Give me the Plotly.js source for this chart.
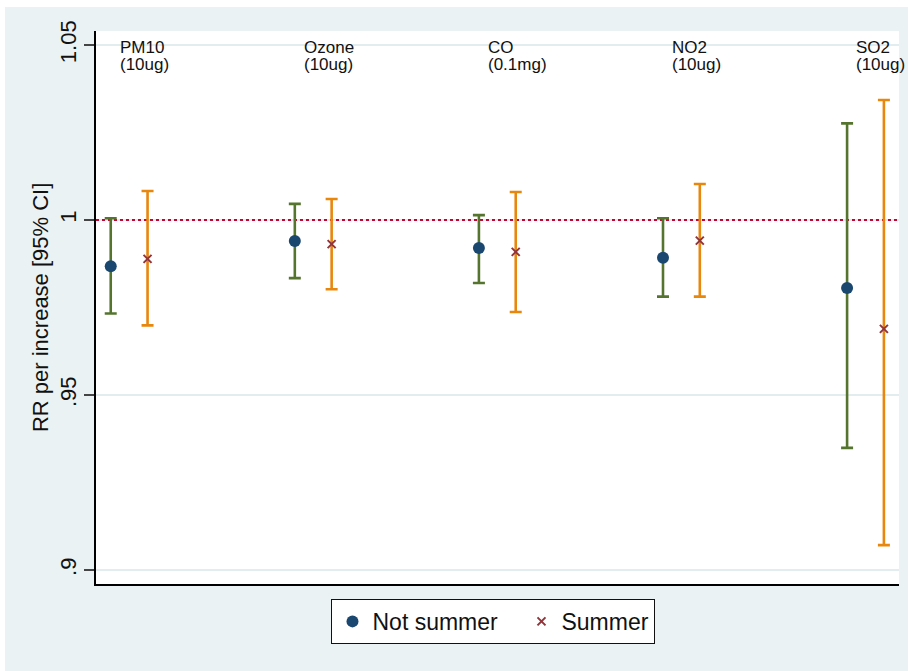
<!DOCTYPE html>
<html>
<head>
<meta charset="utf-8">
<script src="https://cdn.plot.ly/plotly-3.0.1.min.js"></script>
<style>
  html, body { margin: 0; padding: 0; background: #ffffff; }
  #chart { position: absolute; left: 5px; top: 7px; width: 903px; height: 664px; }
</style>
</head>
<body>
<div id="chart"></div>
<script>
// Pollutants and their increments
const pollutants = ["PM10", "Ozone", "CO", "NO2", "SO2"];
const increments = ["(10ug)", "(10ug)", "(0.1mg)", "(10ug)", "(10ug)"];

// Not summer: RR and 95% CI
const notSummerRR = [0.9868, 0.9940, 0.9920, 0.9892, 0.9806];
const notSummerLo = [0.9733, 0.9834, 0.9820, 0.9781, 0.9349];
const notSummerHi = [1.0005, 1.0046, 1.0014, 1.0005, 1.0276];

// Summer: RR and 95% CI
const summerRR = [0.9889, 0.9931, 0.9909, 0.9941, 0.9689];
const summerLo = [0.9699, 0.9802, 0.9737, 0.9781, 0.9071];
const summerHi = [1.0083, 1.0060, 1.0080, 1.0103, 1.0343];

// Reference line (RR = 1)
const refRR = 1;

const yTickVals = [0.9, 0.95, 1, 1.05];
const yTickText = [".9", ".95", "1", "1.05"];

const xRange = [0.92, 5.282];
const xNS = pollutants.map((p, i) => i + 1);
const xS = pollutants.map((p, i) => i + 1.2);

const FONT = "Liberation Sans, Arial, sans-serif";

const traceRef = {
  type: "scatter", mode: "lines", name: "RR = 1", showlegend: false,
  x: xRange, y: [refRR, refRR],
  line: { color: "#c10534", width: 2.2, dash: "dot" },
  hoverinfo: "skip"
};

const traceNS = {
  type: "scatter", mode: "markers", name: "Not summer",
  x: xNS, y: notSummerRR,
  legendwidth: 144,
  marker: { symbol: "circle", size: 12, color: "#1a476f" },
  error_y: {
    type: "data", symmetric: false,
    array: notSummerHi.map((h, i) => h - notSummerRR[i]),
    arrayminus: notSummerRR.map((r, i) => r - notSummerLo[i]),
    color: "#55752f", thickness: 2.6, width: 6
  },
  hoverinfo: "x+y"
};
const traceS = {
  type: "scatter", mode: "markers", name: "Summer",
  x: xS, y: summerRR,
  marker: { symbol: "x-thin", size: 8, color: "#90353b", line: { color: "#90353b", width: 2 } },
  error_y: {
    type: "data", symmetric: false,
    array: summerHi.map((h, i) => h - summerRR[i]),
    arrayminus: summerRR.map((r, i) => r - summerLo[i]),
    color: "#e8870e", thickness: 2.6, width: 6
  },
  hoverinfo: "x+y"
};

const annotations = [];
pollutants.forEach((p, i) => {
  annotations.push({
    x: i + 1.045, y: 1.0493, xref: "x", yref: "y", text: p,
    showarrow: false, xanchor: "left", yanchor: "middle", borderpad: 0,
    font: { family: FONT, size: 17, color: "#111" }
  });
  annotations.push({
    x: i + 1.045, y: 1.0443, xref: "x", yref: "y", text: increments[i],
    showarrow: false, xanchor: "left", yanchor: "middle", borderpad: 0,
    font: { family: FONT, size: 17, color: "#111" }
  });
});
// y-axis title
annotations.push({
  x: -0.069, y: 0.5, xref: "paper", yref: "paper", text: "RR per increase [95% CI]",
  textangle: -90, showarrow: false, xanchor: "center", yanchor: "middle",
  font: { family: FONT, size: 22, color: "#111" }
});

const layout = {
  width: 903, height: 664,
  paper_bgcolor: "#eaf2f3", plot_bgcolor: "#ffffff",
  margin: { l: 91, r: 9, t: 24, b: 87 },
  font: { family: FONT, color: "#111" },
  showlegend: true,
  legend: {
    orientation: "h", x: 0.495, xanchor: "center", y: -0.027, yanchor: "top",
    bgcolor: "#ffffff", bordercolor: "#111", borderwidth: 1,
    font: { size: 23, color: "#111" }
  },
  xaxis: {
    range: xRange, showticklabels: false, ticks: "", showgrid: false,
    zeroline: false, showline: true, linecolor: "#000", linewidth: 1.6, fixedrange: true
  },
  yaxis: {
    range: [0.896, 1.054], tickvals: yTickVals, ticktext: yTickText,
    tickangle: -90, ticks: "outside", ticklen: 10, tickwidth: 1.3, tickcolor: "#444",
    tickfont: { size: 22, color: "#111" },
    showgrid: true, gridcolor: "#e3ecee", gridwidth: 1.5,
    zeroline: false, showline: true, linecolor: "#000", linewidth: 1.6,
    fixedrange: true
  },
  annotations: annotations
};

Plotly.newPlot("chart", [traceRef, traceNS, traceS], layout, { displayModeBar: false, staticPlot: true });
</script>
</body>
</html>
